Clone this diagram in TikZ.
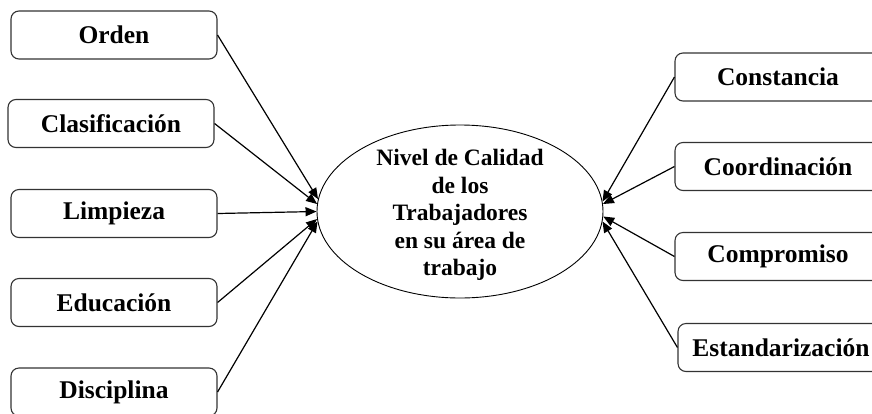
\documentclass[tikz,border=0pt]{standalone}
\usepackage{fontspec}
\setmainfont{Liberation Serif}
\usetikzlibrary{shapes.geometric,arrows.meta}
\begin{document}
\begin{tikzpicture}[x=1pt,y=-1pt,
  box/.style={draw=black!80,line width=1.1pt,rounded corners=8pt,minimum width=206pt,minimum height=48pt,inner sep=0pt,font=\fontsize{25.5}{28}\selectfont\bfseries},
  conn/.style={line width=1.2pt,-{Triangle[length=11pt,width=9pt]}}]
\useasboundingbox (0,0) rectangle (872,413);
\clip (0,0) rectangle (872,413);
\fill[white] (0,0) rectangle (872,413);
\node[ellipse,draw,line width=0.9pt,minimum width=286pt,minimum height=173pt,inner sep=0pt] (c) at (460,211.5) {};
\node[align=center,font=\fontsize{23.5}{27.5}\selectfont\bfseries] (ct) at (460,215) {Nivel de Calidad\\de los\\Trabajadores\\en su área de\\trabajo};
\node[box] (o) at (114,35) {Orden};
\node[box] (cl) at (111,123.5) {Clasificación};
\node[box] (l) at (114,213.5) {Limpieza};
\node[box] (e) at (114,302.5) {Educación};
\node[box] (d) at (114,392) {Disciplina};
\node[box] (cs) at (778,77) {Constancia};
\node[box] (co) at (778,166.5) {Coordinación};
\node[box] (cm) at (778,256.5) {Compromiso};
\node[box] (es) at (781,347.5) {Estandarización};
\draw[conn] (o.east) -- (c.175.5);
\draw[conn] (cl.east) -- (c.177);
\draw[conn] (l.east) -- (c.180);
\draw[conn] (e.east) -- (c.183);
\draw[conn] (d.east) -- (c.184.5);
\draw[conn] (cs.west) -- (c.4.5);
\draw[conn] (co.west) -- (c.3);
\draw[conn] (cm.west) -- (c.-2.5);
\draw[conn] (es.west) -- (c.-4);
\end{tikzpicture}
\end{document}
